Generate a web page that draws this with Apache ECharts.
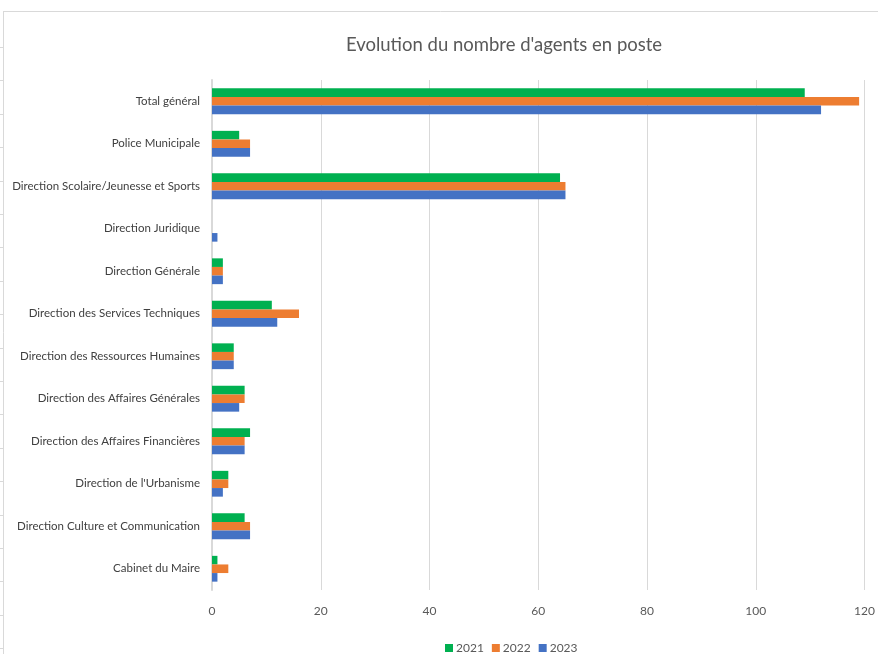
<!DOCTYPE html>
<html>
<head>
<meta charset="utf-8">
<script src="https://cdn.jsdelivr.net/npm/echarts@6/dist/echarts.min.js"></script>
<style>html,body{margin:0;padding:0;background:#fff;}#c{width:878px;height:654px;}</style>
</head>
<body>
<div id="c"></div>
<script>
var categories = ["Total général","Police Municipale","Direction Scolaire/Jeunesse et Sports","Direction Juridique","Direction Générale","Direction des Services Techniques","Direction des Ressources Humaines","Direction des Affaires Générales","Direction des Affaires Financières","Direction de l'Urbanisme","Direction Culture et Communication","Cabinet du Maire"];
var seriesNames = ["2021","2022","2023"];
var values2021 = [109,5,64,0,2,11,4,6,7,3,6,1];
var values2022 = [119,7,65,0,2,16,4,6,6,3,7,3];
var values2023 = [112,7,65,1,2,12,4,5,6,2,7,1];
var xTicks = [0,20,40,60,80,100,120];

var colors = ["#00b050","#ed7d31","#4472c4"];
var FONT = "Lato";
var chart = echarts.init(document.getElementById('c'), null, {renderer:'canvas'});

var deco = [];
deco.push({type:'line', shape:{x1:3.5,y1:11,x2:3.5,y2:654}, style:{stroke:'#d9d9d9',lineWidth:1}, silent:true});
deco.push({type:'line', shape:{x1:3,y1:11.5,x2:878,y2:11.5}, style:{stroke:'#d9d9d9',lineWidth:1}, silent:true});
for (var y = 47; y < 654; y += 33.4) {
  deco.push({type:'line', shape:{x1:0,y1:Math.round(y)+0.5,x2:3,y2:Math.round(y)+0.5}, style:{stroke:'#d9d9d9',lineWidth:1}, silent:true});
}

var data = [values2021, values2022, values2023];
chart.setOption({
  animation:false,
  backgroundColor:'#ffffff',
  color:colors,
  title:{text:"Evolution du nombre d'agents en poste", left:499, top:31, textAlign:'center',
    textStyle:{fontFamily:FONT, fontSize:18.5, fontWeight:'normal', color:'#595959'}},
  legend:{data:seriesNames, bottom:-5, left:440, itemWidth:8, itemHeight:8, itemGap:8, icon:'rect',
    textStyle:{fontFamily:FONT, fontSize:12, color:'#595959', padding:[0,0,0,-2]}},
  grid:{left:212, right:10, top:80, bottom:64, containLabel:false},
  xAxis:{type:'value', min:xTicks[0], max:xTicks[xTicks.length-1], interval:xTicks[1]-xTicks[0],
    axisLine:{show:false}, axisTick:{show:false},
    axisLabel:{fontFamily:FONT, fontSize:12, color:'#595959', margin:15},
    splitLine:{lineStyle:{color:'#d9d9d9', width:1}}},
  yAxis:{type:'category', data:categories, inverse:true,
    axisLine:{show:true, lineStyle:{color:'#d9d9d9', width:2}}, axisTick:{show:false},
    axisLabel:{fontFamily:FONT, fontSize:11.5, color:'#404040', margin:12}},
  series: seriesNames.map(function(n,i){
    return {name:n, type:'bar', data:data[i], barWidth:8.6, barGap:'0%', barCategoryGap:'40%'};
  }),
  graphic: deco
});
</script>
</body>
</html>
